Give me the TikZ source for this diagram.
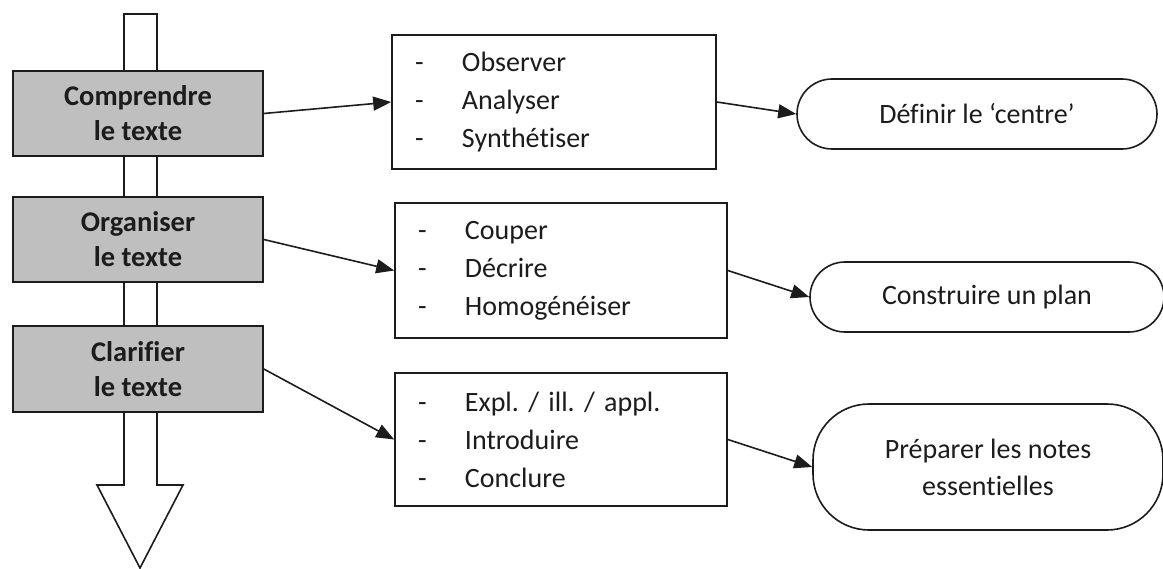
\documentclass[tikz,border=0pt]{standalone}
\usepackage{fontspec}
\setmainfont{Carlito}[Ligatures={NoCommon}]
\usetikzlibrary{arrows.meta}
\definecolor{boxgray}{RGB}{191,191,191}
\definecolor{ink}{RGB}{28,28,28}
\newcommand{\itm}[1]{\makebox[47pt][l]{-}#1}
\frenchspacing
\begin{document}
\begin{tikzpicture}[x=1pt,y=-1pt,
  outline/.style={draw=ink, line width=1.6pt},
  graybox/.style={outline, fill=boxgray, minimum width=250pt, minimum height=85pt, align=center, text=ink, font=\fontsize{28.5}{35}\selectfont\bfseries, inner sep=0pt},
  listbox/.style={outline, fill=white, align=left, text=ink, inner xsep=23pt, inner ysep=0pt, font=\fontsize{28}{38}\selectfont},
  endbox/.style={outline, fill=white, align=center, text=ink, font=\fontsize{28}{37}\selectfont, inner sep=0pt},
  link/.style={draw=ink, line width=1.6pt, -{Triangle[length=18pt,width=14pt]}}
]
\useasboundingbox (0,0) rectangle (1163,569);

% big downward arrow
\draw[outline, fill=white, line join=miter] (124,14) -- (157,14) -- (157,485) -- (183,485) -- (140,568) -- (97,485) -- (124,485) -- cycle;

% gray step boxes
\node[graybox] (c1) at (138,113.5) {Comprendre\\le texte};
\node[graybox] (c2) at (138,239.5) {Organiser\\le texte};
\node[graybox, minimum height=86pt] (c3) at (138,369) {Clarifier\\le texte};

% list boxes
\node[listbox, minimum width=324pt, minimum height=134pt, text width=278pt] (b1) at (554,102) {\itm{Observer}\\\itm{Analyser}\\\itm{Synthétiser}};
\node[listbox, minimum width=332pt, minimum height=135pt, text width=286pt] (b2) at (561,270.5) {\itm{Couper}\\\itm{Décrire}\\\itm{Homogénéiser}};
\node[listbox, minimum width=332pt, minimum height=133pt, text width=286pt] (b3) at (561,439.5) {\itm{Expl. / ill. / appl.}\\\itm{Introduire}\\\itm{Conclure}};

% end shapes
\node[endbox, rounded corners=35pt, minimum width=360pt, minimum height=70pt] (e1) at (977,114) {Définir le ‘centre’};
\node[endbox, rounded corners=35pt, minimum width=354pt, minimum height=70pt] (e2) at (987,297) {Construire un plan};
\node[endbox, rounded corners=56pt, minimum width=350pt, minimum height=126pt] (e3) at (988,467) {Préparer les notes\\essentielles};

% connectors
\draw[link] (c1.east) -- (b1.west);
\draw[link] (c2.east) -- (b2.west);
\draw[link] (c3.east) -- (b3.west);
\draw[link] (b1.east) -- (e1.west);
\draw[link] (b2.east) -- (e2.west);
\draw[link] (b3.east) -- (e3.west);
\end{tikzpicture}
\end{document}
